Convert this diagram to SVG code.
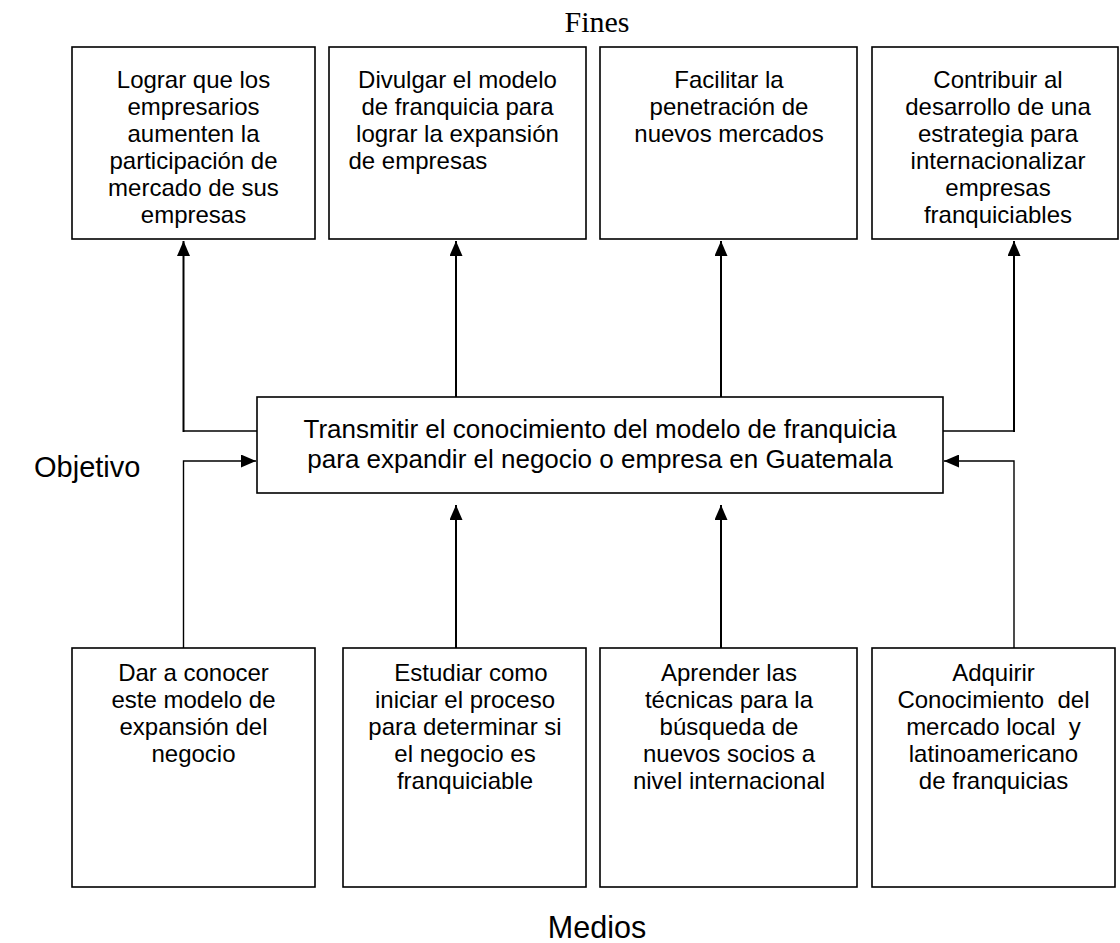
<svg xmlns="http://www.w3.org/2000/svg" width="1120" height="943" viewBox="0 0 1120 943">
<style>
.box{fill:#fff;stroke:#000;stroke-width:1.6}
.t{font-family:"Liberation Sans",Arial,sans-serif;font-size:24px;fill:#000;text-anchor:middle}
.tc{font-family:"Liberation Sans",Arial,sans-serif;font-size:26px;fill:#000;text-anchor:middle}
.lbl{font-family:"Liberation Sans",Arial,sans-serif;fill:#000}
.ln{fill:none;stroke:#000;stroke-width:2}
.thin{fill:none;stroke:#000;stroke-width:1.4}
</style>
<defs>
<marker id="ah" viewBox="0 0 15 13" refX="15" refY="6.5" markerWidth="15" markerHeight="13" markerUnits="userSpaceOnUse" orient="auto">
<path d="M0,0 L15,6.5 L0,13 Z" fill="#000"/>
</marker>
</defs>
<rect width="1120" height="943" fill="#fff"/>

<text x="597" y="32" style="font-family:'Liberation Serif','Times New Roman',serif;font-size:30px;text-anchor:middle">Fines</text>
<text class="lbl" x="34" y="477" style="font-size:29px">Objetivo</text>
<text class="lbl" x="597" y="938" style="font-size:30.5px;text-anchor:middle">Medios</text>

<g id="connectors">
<line class="thin" x1="257" y1="431" x2="183.5" y2="431"/>
<line class="ln" x1="183.5" y1="432" x2="183.5" y2="241" marker-end="url(#ah)"/>
<line class="ln" x1="456" y1="397" x2="456" y2="241" marker-end="url(#ah)"/>
<line class="ln" x1="721" y1="397" x2="721" y2="241" marker-end="url(#ah)"/>
<line class="thin" x1="943" y1="431" x2="1014" y2="431"/>
<line class="ln" x1="1014" y1="432" x2="1014" y2="241" marker-end="url(#ah)"/>
<polyline class="thin" points="183.5,648 183.5,461 256,461" marker-end="url(#ah)"/>
<line class="ln" x1="456" y1="648" x2="456" y2="505" marker-end="url(#ah)"/>
<line class="ln" x1="721" y1="648" x2="721" y2="505" marker-end="url(#ah)"/>
<polyline class="thin" points="1014,648 1014,461 944,461" marker-end="url(#ah)"/>
</g>

<g id="fin1">
<rect class="box" x="72" y="47" width="243" height="192"/>
<text class="t" x="193.5" y="88">Lograr que los</text>
<text class="t" x="193.5" y="115">empresarios</text>
<text class="t" x="193.5" y="142">aumenten la</text>
<text class="t" x="193.5" y="169">participación de</text>
<text class="t" x="193.5" y="196">mercado de sus</text>
<text class="t" x="193.5" y="223">empresas</text>
</g>
<g id="fin2">
<rect class="box" x="329" y="47" width="257" height="192"/>
<text class="t" x="457.5" y="88">Divulgar el modelo</text>
<text class="t" x="457.5" y="115">de franquicia para</text>
<text class="t" x="457.5" y="142">lograr la expansión</text>
<text class="t" x="348.5" y="169" style="text-anchor:start">de empresas</text>
</g>
<g id="fin3">
<rect class="box" x="600" y="47" width="257" height="192"/>
<text class="t" x="729" y="88">Facilitar la</text>
<text class="t" x="729" y="115">penetración de</text>
<text class="t" x="729" y="142">nuevos mercados</text>
</g>
<g id="fin4">
<rect class="box" x="872" y="47" width="246" height="192"/>
<text class="t" x="998" y="88">Contribuir al</text>
<text class="t" x="998" y="115">desarrollo de una</text>
<text class="t" x="998" y="142">estrategia para</text>
<text class="t" x="998" y="169">internacionalizar</text>
<text class="t" x="998" y="196">empresas</text>
<text class="t" x="998" y="223">franquiciables</text>
</g>

<g id="objetivo">
<rect class="box" x="257" y="397" width="686" height="96"/>
<text class="tc" x="600" y="438">Transmitir el conocimiento del modelo de franquicia</text>
<text class="tc" x="600" y="468">para expandir el negocio o empresa en Guatemala</text>
</g>

<g id="medio1">
<rect class="box" x="72" y="648" width="243" height="239"/>
<text class="t" x="193.5" y="681">Dar a conocer</text>
<text class="t" x="193.5" y="708">este modelo de</text>
<text class="t" x="193.5" y="735">expansión del</text>
<text class="t" x="193.5" y="762">negocio</text>
</g>
<g id="medio2">
<rect class="box" x="343" y="648" width="243" height="239"/>
<text class="t" x="471" y="681">Estudiar como</text>
<text class="t" x="465" y="708">iniciar el proceso</text>
<text class="t" x="465" y="735">para determinar si</text>
<text class="t" x="465" y="762">el negocio es</text>
<text class="t" x="465" y="789">franquiciable</text>
</g>
<g id="medio3">
<rect class="box" x="600" y="648" width="257" height="239"/>
<text class="t" x="729" y="681">Aprender las</text>
<text class="t" x="729" y="708">técnicas para la</text>
<text class="t" x="729" y="735">búsqueda de</text>
<text class="t" x="729" y="762">nuevos socios a</text>
<text class="t" x="729" y="789">nivel internacional</text>
</g>
<g id="medio4">
<rect class="box" x="872" y="648" width="243" height="239"/>
<text class="t" x="993.5" y="681">Adquirir</text>
<text class="t" x="993.5" y="708" xml:space="preserve">Conocimiento  del</text>
<text class="t" x="993.5" y="735" xml:space="preserve">mercado local  y</text>
<text class="t" x="993.5" y="762">latinoamericano</text>
<text class="t" x="993.5" y="789">de franquicias</text>
</g>
</svg>
